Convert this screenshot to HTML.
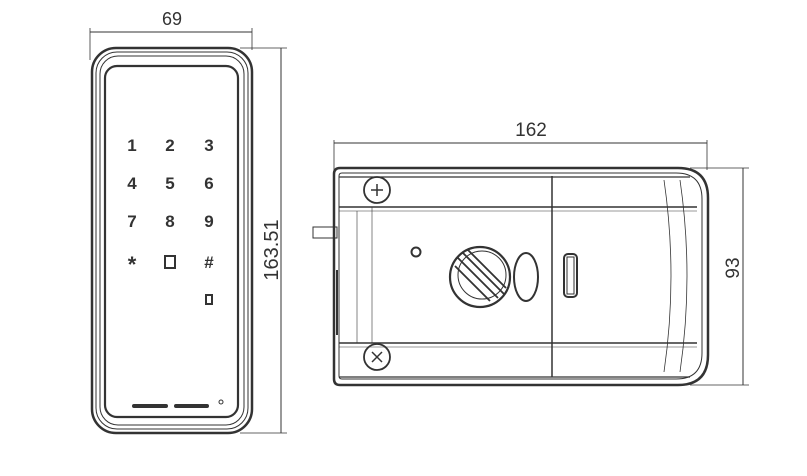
<!DOCTYPE html>
<html><head><style>
html,body{margin:0;padding:0;background:#fff;}
svg{display:block;}
text{font-family:"Liberation Sans",sans-serif;fill:#333;}
</style></head><body>
<svg width="807" height="476" viewBox="0 0 807 476" xmlns="http://www.w3.org/2000/svg" fill="none" stroke="#333">
<!-- LEFT: keypad -->
<line x1="90" y1="32" x2="252" y2="32" stroke-width="1"/>
<line x1="90" y1="28" x2="90" y2="60" stroke-width="0.8"/>
<line x1="252" y1="28" x2="252" y2="50" stroke-width="0.8"/>
<text x="172" y="25" font-size="18" text-anchor="middle" stroke="none">69</text>
<rect x="92" y="48" width="160" height="385" rx="24" stroke-width="2.5"/>
<rect x="96" y="52" width="152" height="377" rx="21" stroke-width="1"/>
<rect x="100" y="56" width="144" height="369" rx="18" stroke-width="1"/>
<rect x="105" y="66" width="133" height="351" rx="12" stroke-width="2.2"/>
<line x1="240" y1="48" x2="287" y2="48" stroke-width="0.8"/>
<line x1="240" y1="433" x2="287" y2="433" stroke-width="0.8"/>
<line x1="281" y1="48" x2="281" y2="433" stroke-width="1"/>
<text transform="translate(278,250) rotate(-90)" font-size="20" text-anchor="middle" stroke="none">163.51</text>
<g font-size="17" font-weight="bold" text-anchor="middle" stroke="none" fill="#444">
<text x="132" y="151">1</text><text x="170" y="151">2</text><text x="209" y="151">3</text>
<text x="132" y="189">4</text><text x="170" y="189">5</text><text x="209" y="189">6</text>
<text x="132" y="227">7</text><text x="170" y="227">8</text><text x="209" y="227">9</text>
<text x="132" y="272" font-size="22">*</text><text x="209" y="268">#</text>
</g>
<rect x="165" y="256" width="10" height="12" stroke-width="2"/>
<rect x="206" y="295" width="6" height="9" stroke-width="2"/>
<line x1="134" y1="406" x2="166" y2="406" stroke-width="4" stroke-linecap="round"/>
<line x1="176" y1="406" x2="207" y2="406" stroke-width="4" stroke-linecap="round"/>
<circle cx="221" cy="402" r="2" stroke-width="1"/>

<!-- RIGHT: lock body -->
<line x1="334" y1="143" x2="707" y2="143" stroke-width="1"/>
<line x1="334" y1="140" x2="334" y2="170" stroke-width="0.8"/>
<line x1="707" y1="140" x2="707" y2="170" stroke-width="0.8"/>
<text x="531" y="136" font-size="19" text-anchor="middle" stroke="none">162</text>
<path d="M340 168 H678 Q708 168 708 198 V355 Q708 385 678 385 H340 Q334 385 334 379 V174 Q334 168 340 168 Z" stroke-width="2.5"/>
<path d="M342 173 H676 Q702 173 702 199 V353 Q702 379 676 379 H342 Q339 379 339 376 V176 Q339 173 342 173 Z" stroke-width="1"/>
<line x1="339" y1="177" x2="690" y2="177" stroke-width="1.2"/>
<line x1="339" y1="207" x2="697" y2="207" stroke-width="1.5"/>
<line x1="339" y1="211" x2="697" y2="211" stroke-width="0.6"/>
<line x1="339" y1="343" x2="697" y2="343" stroke-width="1.5"/>
<line x1="339" y1="347" x2="697" y2="347" stroke-width="0.6"/>
<line x1="339" y1="377" x2="690" y2="377" stroke-width="1.2"/>
<line x1="357" y1="211" x2="357" y2="343" stroke-width="0.6"/>
<line x1="372" y1="207" x2="372" y2="343" stroke-width="0.6"/>
<path d="M552 176 V377" stroke-width="1.5"/>
<path d="M664 180 Q678 276 664 372" stroke-width="0.8"/>
<path d="M680 180 Q694 276 680 372" stroke-width="0.8"/>
<rect x="313" y="227" width="24" height="11" stroke-width="1"/>
<line x1="337" y1="270" x2="337" y2="335" stroke-width="2"/>
<circle cx="377" cy="190" r="13" stroke-width="1.8"/>
<path d="M371 190 H383 M377 184 V196" stroke-width="1.5"/>
<circle cx="377" cy="357" r="13" stroke-width="1.8"/>
<path d="M372 352 L382 362 M382 352 L372 362" stroke-width="1.5"/>
<circle cx="416" cy="252" r="4.5" stroke-width="2"/>
<circle cx="480" cy="277" r="30" stroke-width="2.2"/>
<circle cx="482" cy="275" r="24" stroke-width="1"/>
<path d="M458 258 L498 298 M462 252 L504 294 M455 266 L490 301 M468 250 L506 288" stroke-width="1.8"/>
<ellipse cx="526" cy="277" rx="12" ry="24" stroke-width="2"/>
<rect x="564" y="254" width="13" height="43" rx="4" stroke-width="2"/>
<rect x="567" y="257" width="7" height="37" stroke-width="1"/>
<line x1="690" y1="168" x2="749" y2="168" stroke-width="0.8"/>
<line x1="690" y1="385" x2="749" y2="385" stroke-width="0.8"/>
<line x1="743" y1="168" x2="743" y2="385" stroke-width="1"/>
<text transform="translate(739,268) rotate(-90)" font-size="19" text-anchor="middle" stroke="none">93</text>
</svg>
</body></html>
